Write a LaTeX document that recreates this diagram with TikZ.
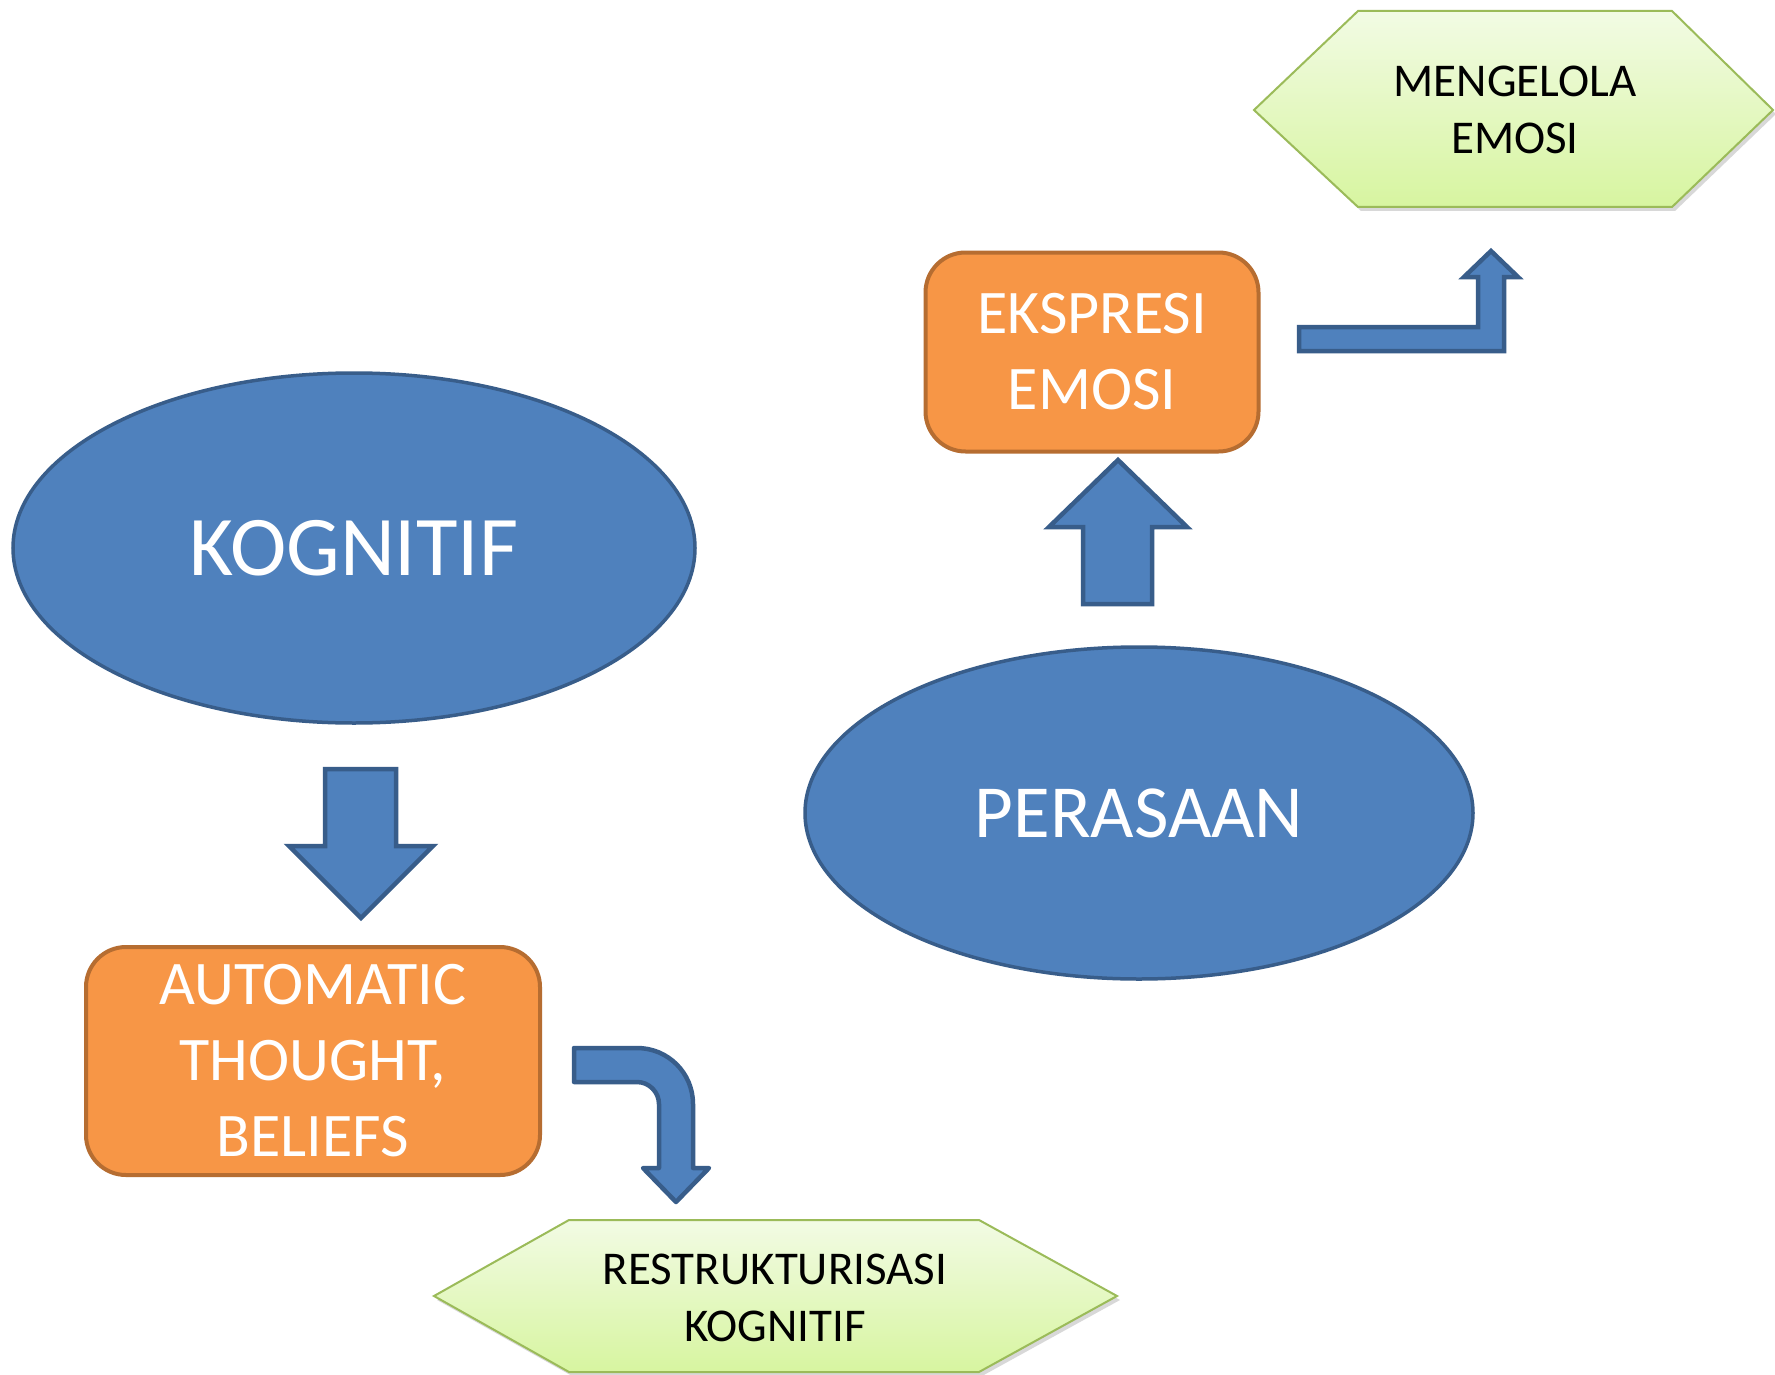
\documentclass[tikz,border=0pt]{standalone}
\usepackage{fontspec}
\setmainfont{Carlito}
\usetikzlibrary{shapes.geometric,shadows}
\definecolor{bfill}{HTML}{4F81BD}
\definecolor{bline}{HTML}{385D8A}
\definecolor{ofill}{HTML}{F79646}
\definecolor{oline}{HTML}{B66D31}
\definecolor{gline}{HTML}{9BBB59}
\definecolor{gtop}{HTML}{F2FBE4}
\definecolor{gbot}{HTML}{D7F5A0}
\begin{document}
\begin{tikzpicture}[x=1pt,y=-1pt,
 oval/.style={ellipse, draw=bline, fill=bfill, line width=3.5pt, inner sep=0pt, text=white},
 obox/.style={rectangle, rounded corners=40pt, draw=oline, fill=ofill, line width=4pt, text=white, align=center, inner sep=0pt, font=\fontsize{62}{76}\selectfont},
 blockarrow/.style={draw=bline, fill=bfill, line width=4.5pt, line join=miter},
 hexa/.style={draw=gline, line width=2pt, top color=gtop, bottom color=gbot, drop shadow={shadow xshift=3pt, shadow yshift=-4pt, opacity=0.3}},
 hextext/.style={align=center, text=black, font=\fontsize{47}{57}\selectfont}
]
\useasboundingbox (0,0) rectangle (1775,1375);
\fill[white] (0,0) rectangle (1775,1375);

% ellipses
\node[oval, minimum width=682pt, minimum height=350pt, font=\fontsize{85}{100}\selectfont] (kog) at (354,548) {KOGNITIF};
\node[oval, minimum width=668pt, minimum height=332pt, font=\fontsize{75}{90}\selectfont] (per) at (1139,813) {PERASAAN};

% orange boxes
\node[obox, minimum width=454pt, minimum height=228pt] (auto) at (313,1061) {AUTOMATIC\\THOUGHT,\\BELIEFS};
\node[obox, minimum width=333pt, minimum height=199pt] (eks) at (1092,352) {EKSPRESI\\EMOSI};

% hexagons
\draw[hexa] (434,1296) -- (569,1220) -- (979,1220) -- (1117,1296) -- (979,1372) -- (569,1372) -- cycle;
\node[hextext] (res) at (775,1298) {RESTRUKTURISASI\\KOGNITIF};
\draw[hexa] (1254,110) -- (1358,11) -- (1672,11) -- (1773,110) -- (1672,207) -- (1358,207) -- cycle;
\node[hextext] (men) at (1515,110) {MENGELOLA\\EMOSI};

% block arrows
\draw[blockarrow] (325,769) -- (396,769) -- (396,846) -- (433,846) -- (361,918) -- (289,846) -- (325,846) -- cycle;
\draw[blockarrow] (1083,604) -- (1152,604) -- (1152,527) -- (1187,527) -- (1118,460) -- (1049,527) -- (1083,527) -- cycle;
\draw[blockarrow] (1299,327) -- (1478,327) -- (1478,277) -- (1464,277) -- (1491,251) -- (1518,277) -- (1504,277) -- (1504,351) -- (1299,351) -- cycle;
\draw[blockarrow, line join=round] (574,1048) -- (637,1048) .. controls (668,1048) and (693,1073) .. (693,1104) -- (693,1168) -- (709,1168) -- (676,1202) -- (643,1168) -- (659,1168) -- (659,1104) .. controls (659,1092) and (649,1082) .. (637,1082) -- (574,1082) -- cycle;
\end{tikzpicture}
\end{document}
